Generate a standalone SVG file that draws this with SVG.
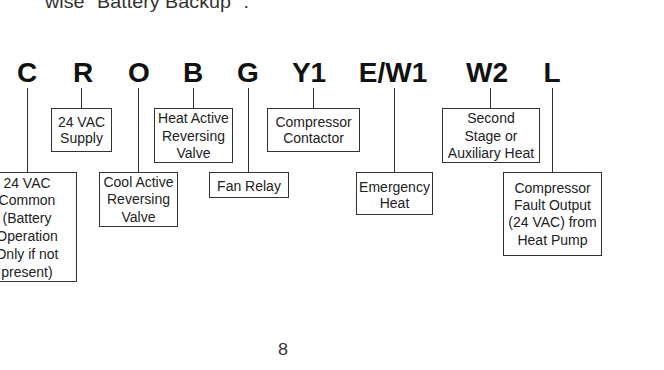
<svg xmlns="http://www.w3.org/2000/svg" width="664" height="370" viewBox="0 0 664 370">
<style>
.bg{fill:#fff}
.term{font-family:"Liberation Sans",Arial,sans-serif;font-weight:bold;font-size:28px;fill:#111;text-anchor:middle}
.box{fill:#fff;stroke:#333;stroke-width:1}
.lbl{font-family:"Liberation Sans",Arial,sans-serif;font-size:14px;fill:#222;text-anchor:middle}
.wire{stroke:#333;stroke-width:1;fill:none}
.body{font-family:"Liberation Sans",Arial,sans-serif;font-size:19px;fill:#333}
</style>
<rect class="bg" x="0" y="0" width="664" height="370"/>
<text class="body" x="45" y="8" textLength="204" lengthAdjust="spacingAndGlyphs">wise "Battery Backup" .</text>
<g id="terminals">
<text class="term" x="27" y="82">C</text>
<text class="term" x="83" y="82">R</text>
<text class="term" x="139" y="82">O</text>
<text class="term" x="193" y="82">B</text>
<text class="term" x="248" y="82">G</text>
<text class="term" x="309" y="82">Y1</text>
<text class="term" x="393" y="82">E/W1</text>
<text class="term" x="487" y="82">W2</text>
<text class="term" x="552" y="82">L</text>
</g>
<g id="connectors">
<line class="wire" x1="27.5" y1="88" x2="27.5" y2="172"/>
<line class="wire" x1="81.5" y1="88" x2="81.5" y2="108"/>
<line class="wire" x1="138.5" y1="88" x2="138.5" y2="172"/>
<line class="wire" x1="193.5" y1="88" x2="193.5" y2="108"/>
<line class="wire" x1="248.5" y1="88" x2="248.5" y2="172"/>
<line class="wire" x1="313.5" y1="88" x2="313.5" y2="108"/>
<line class="wire" x1="394.5" y1="88" x2="394.5" y2="172"/>
<line class="wire" x1="490.5" y1="88" x2="490.5" y2="108"/>
<line class="wire" x1="552.5" y1="88" x2="552.5" y2="172"/>
</g>
<g id="node-c">
<rect class="box" x="-22.5" y="172.5" width="99" height="109"/>
<text class="lbl" x="27" y="188">24 VAC</text>
<text class="lbl" x="27" y="205">Common</text>
<text class="lbl" x="27" y="223">(Battery</text>
<text class="lbl" x="27" y="241">Operation</text>
<text class="lbl" x="27" y="259">Only if not</text>
<text class="lbl" x="27" y="277">present)</text>
</g>
<g id="node-r">
<rect class="box" x="51.5" y="108.5" width="60" height="43"/>
<text class="lbl" x="81.5" y="127">24 VAC</text>
<text class="lbl" x="81.5" y="143">Supply</text>
</g>
<g id="node-o">
<rect class="box" x="99.5" y="172.5" width="78" height="54"/>
<text class="lbl" x="138.5" y="187">Cool Active</text>
<text class="lbl" x="138.5" y="204">Reversing</text>
<text class="lbl" x="138.5" y="222">Valve</text>
</g>
<g id="node-b">
<rect class="box" x="154.5" y="108.5" width="78" height="54"/>
<text class="lbl" x="193.5" y="123">Heat Active</text>
<text class="lbl" x="193.5" y="141">Reversing</text>
<text class="lbl" x="193.5" y="158">Valve</text>
</g>
<g id="node-g">
<rect class="box" x="209.5" y="172.5" width="79" height="25"/>
<text class="lbl" x="249" y="191">Fan Relay</text>
</g>
<g id="node-y1">
<rect class="box" x="267.5" y="108.5" width="92" height="43"/>
<text class="lbl" x="313.5" y="127">Compressor</text>
<text class="lbl" x="313.5" y="143">Contactor</text>
</g>
<g id="node-ew1">
<rect class="box" x="356.5" y="172.5" width="76" height="42"/>
<text class="lbl" x="394.5" y="192">Emergency</text>
<text class="lbl" x="394.5" y="208">Heat</text>
</g>
<g id="node-w2">
<rect class="box" x="442.5" y="108.5" width="97" height="54"/>
<text class="lbl" x="491" y="123">Second</text>
<text class="lbl" x="491" y="141">Stage or</text>
<text class="lbl" x="491" y="158">Auxiliary Heat</text>
</g>
<g id="node-l">
<rect class="box" x="503.5" y="172.5" width="98" height="83"/>
<text class="lbl" x="552.5" y="193">Compressor</text>
<text class="lbl" x="552.5" y="210">Fault Output</text>
<text class="lbl" x="552.5" y="227">(24 VAC) from</text>
<text class="lbl" x="552.5" y="245">Heat Pump</text>
</g>
<text class="body" x="283" y="355" style="font-size:16px;text-anchor:middle" textLength="10" lengthAdjust="spacingAndGlyphs">8</text>
</svg>
